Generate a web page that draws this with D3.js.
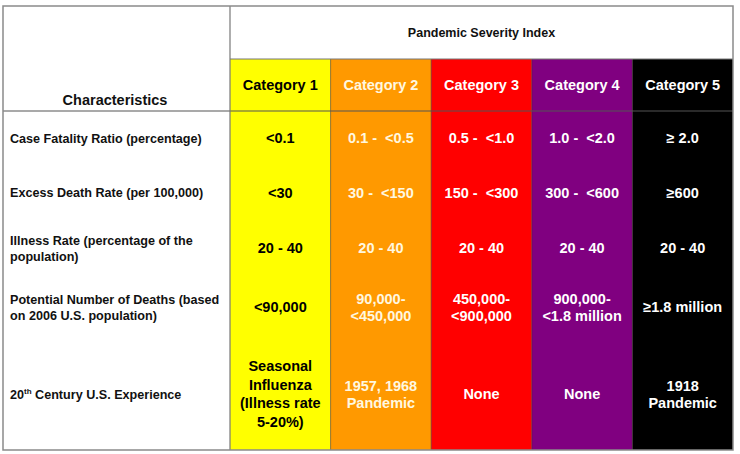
<!DOCTYPE html>
<html>
<head>
<meta charset="utf-8">
<script src="https://cdn.jsdelivr.net/npm/d3@7"></script>
<style>
  body { margin: 0; background: #fff; }
  text { font-family: "Liberation Sans", Arial, sans-serif; font-weight: bold; white-space: pre; }
</style>
</head>
<body>
<svg id="chart" width="740" height="454"></svg>
<script>
// data
let categories = ['Category 1', 'Category 2', 'Category 3', 'Category 4', 'Category 5'];
let catColors = ['#ffff00', '#ff9900', '#ff0000', '#800080', '#000000'];
let catTextColors = ['#000000', '#fff8e0', '#ffffff', '#ffffff', '#ffffff'];
let characteristics = [
    ['Case Fatality Ratio (percentage)'],
    ['Excess Death Rate (per 100,000)'],
    ['Illness Rate (percentage of the', 'population)'],
    ['Potential Number of Deaths (based', 'on 2006 U.S. population)'],
    ['20|th| Century U.S. Experience']
];
let values = [
    [['<0.1'], ['0.1 -  <0.5'], ['0.5 -  <1.0'], ['1.0 -  <2.0'], ['\u2265 2.0']],
    [['<30'], ['30 -  <150'], ['150 -  <300'], ['300 -  <600'], ['\u2265600']],
    [['20 - 40'], ['20 - 40'], ['20 - 40'], ['20 - 40'], ['20 - 40']],
    [['<90,000'], ['90,000-', '<450,000'], ['450,000-', '<900,000'], ['900,000-', '<1.8 million'], ['\u22651.8 million']],
    [['Seasonal', 'Influenza', '(Illness rate', '5-20%)'], ['1957, 1968', 'Pandemic'], ['None'], ['None'], ['1918', 'Pandemic']]
];
let title = 'Pandemic Severity Index';
let rowHeader = 'Characteristics';

// layout
let x0 = 3, y0 = 6, x1 = 733, y1 = 450;
let labelW = 227;
let titleH = 53, catH = 52;
let rowWeights = [54, 55, 56, 62, 112];

let svg = d3.select('#chart');

let x = d3.scaleBand().domain(d3.range(categories.length)).range([x0 + labelW, x1]);
let bodyTop = y0 + titleH + catH;
let cum = [0];
rowWeights.forEach(w => cum.push(cum[cum.length - 1] + w));
let y = d3.scaleLinear().domain([0, cum[cum.length - 1]]).range([bodyTop, y1]);

// colored columns
svg.selectAll('rect.col')
    .data(categories)
    .enter()
    .append('rect')
    .attr('class', 'col')
    .attr('x', (d, i) => x(i))
    .attr('y', y0 + titleH)
    .attr('width', x.bandwidth())
    .attr('height', y1 - y0 - titleH)
    .attr('fill', (d, i) => catColors[i]);

// column separators
svg.selectAll('line.sep')
    .data(d3.range(1, categories.length))
    .enter()
    .append('line')
    .attr('x1', d => x(d)).attr('x2', d => x(d))
    .attr('y1', y0 + titleH).attr('y2', y1)
    .attr('stroke', '#3a2a2a').attr('stroke-opacity', 0.55).attr('stroke-width', 1);

// grid lines
svg.append('line')
    .attr('x1', x0).attr('x2', x1)
    .attr('y1', bodyTop).attr('y2', bodyTop)
    .attr('stroke', '#555').attr('stroke-width', 1.2);
svg.append('line')
    .attr('x1', x0 + labelW).attr('x2', x1)
    .attr('y1', y0 + titleH).attr('y2', y0 + titleH)
    .attr('stroke', '#777').attr('stroke-width', 1);
svg.append('line')
    .attr('x1', x0 + labelW).attr('x2', x0 + labelW)
    .attr('y1', y0).attr('y2', y1)
    .attr('stroke', '#777').attr('stroke-width', 1.2);
svg.append('rect')
    .attr('x', x0).attr('y', y0)
    .attr('width', x1 - x0).attr('height', y1 - y0)
    .attr('fill', 'none').attr('stroke', '#8a8a8a').attr('stroke-width', 1.5);

// title + header texts
svg.append('text')
    .attr('x', (x0 + labelW + x1) / 2)
    .attr('y', y0 + titleH / 2 + 4.5)
    .attr('text-anchor', 'middle')
    .attr('font-size', 12.5)
    .attr('fill', '#111')
    .text(title);

svg.append('text')
    .attr('x', 115)
    .attr('y', 104.5)
    .attr('text-anchor', 'middle')
    .attr('font-size', 14.5)
    .attr('fill', '#111')
    .text(rowHeader);

svg.selectAll('text.cat')
    .data(categories)
    .enter()
    .append('text')
    .attr('class', 'cat')
    .attr('x', (d, i) => x(i) + x.bandwidth() / 2)
    .attr('y', y0 + titleH + catH / 2 + 5)
    .attr('text-anchor', 'middle')
    .attr('font-size', 14.5)
    .attr('fill', (d, i) => catTextColors[i])
    .text(d => d);

// row labels
let lineH = 16;
characteristics.forEach((lines, r) => {
    let cy = y(cum[r] + rowWeights[r] / 2);
    let t = svg.append('text')
        .attr('x', 10)
        .attr('font-size', 12.6)
        .attr('fill', '#111');
    lines.forEach((ln, k) => {
        let yy = cy + 4.5 + (k - (lines.length - 1) / 2) * lineH;
        let parts = ln.split('|');
        parts.forEach((p, j) => {
            let ts = t.append('tspan').text(p);
            if (j === 0) ts.attr('x', 10).attr('y', yy);
            if (j === 1) ts.attr('font-size', 8).attr('dy', -4.5);
            if (j === 2) ts.attr('dy', 4.5);
        });
    });
});

// cell values
values.forEach((row, r) => {
    let cy = y(cum[r] + rowWeights[r] / 2);
    row.forEach((lines, c) => {
        let t = svg.append('text')
            .attr('text-anchor', 'middle')
            .attr('font-size', 14.5)
            .attr('fill', catTextColors[c]);
        let lh = lines.length > 2 ? 18.7 : 17;
        lines.forEach((ln, k) => {
            t.append('tspan')
                .attr('x', x(c) + x.bandwidth() / 2)
                .attr('y', cy + 5 + (k - (lines.length - 1) / 2) * lh)
                .text(ln);
        });
    });
});
</script>
</body>
</html>
